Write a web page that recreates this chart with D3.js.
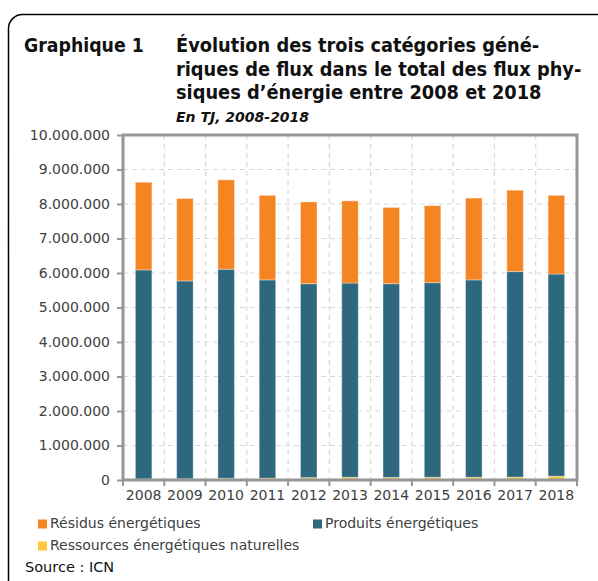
<!DOCTYPE html>
<html>
<head>
<meta charset="utf-8">
<script src="https://cdn.jsdelivr.net/npm/d3@7"></script>
<style>
  body { margin: 0; background: #fff; }
  svg { display: block; font-family: "DejaVu Sans", sans-serif; }
</style>
</head>
<body>
<div class="canvas"></div>
<script>
const years = ['2008', '2009', '2010', '2011', '2012', '2013', '2014', '2015', '2016', '2017', '2018'];
// values in TJ
const ressources = [30000, 35000, 50000, 55000, 70000, 80000, 75000, 80000, 80000, 85000, 110000];
const produits = [6060000, 5735000, 6060000, 5745000, 5620000, 5630000, 5615000, 5640000, 5720000, 5955000, 5860000];
const residus = [2540000, 2390000, 2590000, 2450000, 2370000, 2380000, 2210000, 2230000, 2370000, 2360000, 2280000];
const yTicks = [0, 1e6, 2e6, 3e6, 4e6, 5e6, 6e6, 7e6, 8e6, 9e6, 10e6];

const seriesNames = ['Ressources énergétiques naturelles', 'Produits énergétiques', 'Résidus énergétiques'];
const colors = ['#FFC83D', '#2D687F', '#F58423'];

const condensed = '"DejaVu Sans Condensed", "DejaVu Sans", sans-serif';

const svg = d3.select('.canvas')
  .append('svg')
  .attr('width', 598)
  .attr('height', 581);

// rounded frame, runs off the bottom and right
svg.append('rect')
  .attr('x', 8.5).attr('y', 14.5)
  .attr('width', 620).attr('height', 620)
  .attr('rx', 14)
  .attr('fill', 'none')
  .attr('stroke', '#000')
  .attr('stroke-width', 1.5);

// title block
svg.append('text')
  .attr('x', 24).attr('y', 52)
  .attr('font-family', condensed)
  .attr('font-size', 19.3).attr('font-weight', 'bold')
  .attr('fill', '#111')
  .text('Graphique 1');

const titleLines = ['Évolution des trois catégories géné-', 'riques de flux dans le total des flux phy-', 'siques d’énergie entre 2008 et 2018'];
svg.append('g').selectAll('text')
  .data(titleLines)
  .join('text')
  .attr('x', 176)
  .attr('y', (d, i) => 52 + i * 23.5)
  .attr('font-family', condensed)
  .attr('font-size', 19.8).attr('font-weight', 'bold')
  .attr('fill', '#111')
  .text(d => d);

svg.append('text')
  .attr('x', 176).attr('y', 122)
  .attr('font-size', 14).attr('font-weight', 'bold').attr('font-style', 'italic')
  .attr('fill', '#111')
  .text('En TJ, 2008-2018');

// plot
const pLeft = 123, pRight = 577, pTop = 135, pBottom = 480;

const x = d3.scaleBand()
  .domain(years)
  .range([pLeft, pRight])
  .paddingInner(0.6)
  .paddingOuter(0.3);

const xCell = d3.scaleBand()
  .domain(years)
  .range([pLeft, pRight]);

const y = d3.scaleLinear()
  .domain([0, 10e6])
  .range([pBottom, pTop]);

// gridlines
const grid = svg.append('g')
  .attr('stroke', '#d9d9d9')
  .attr('stroke-dasharray', '5,4')
  .attr('stroke-width', 1.2);

grid.selectAll('.hg')
  .data(yTicks.slice(1, -1))
  .join('line')
  .attr('x1', pLeft).attr('x2', pRight)
  .attr('y1', d => y(d)).attr('y2', d => y(d));

grid.selectAll('.vg')
  .data(years.slice(1))
  .join('line')
  .attr('x1', d => xCell(d)).attr('x2', d => xCell(d))
  .attr('y1', pTop).attr('y2', pBottom);

// stacked bars
const table = years.map((yr, i) => ({
  year: yr,
  [seriesNames[0]]: ressources[i],
  [seriesNames[1]]: produits[i],
  [seriesNames[2]]: residus[i]
}));

const stack = d3.stack().keys(seriesNames);
const layers = stack(table);

svg.append('g').selectAll('g')
  .data(layers)
  .join('g')
  .attr('fill', (d, i) => colors[i])
  .selectAll('rect')
  .data(d => d)
  .join('rect')
  .attr('x', d => x(d.data.year))
  .attr('width', x.bandwidth())
  .attr('y', d => y(d[1]))
  .attr('height', d => y(d[0]) - y(d[1]))
  .attr('stroke', 'rgba(255,255,255,0.35)')
  .attr('stroke-width', 1);

// frame of the plot area
svg.append('rect')
  .attr('x', pLeft).attr('y', pTop)
  .attr('width', pRight - pLeft).attr('height', pBottom - pTop)
  .attr('fill', 'none')
  .attr('stroke', '#969696')
  .attr('stroke-width', 3);

// y axis
const yAxis = svg.append('g')
  .attr('transform', `translate(${pLeft},0)`)
  .call(d3.axisLeft(y)
    .tickValues(yTicks)
    .tickSize(6)
    .tickPadding(7)
    .tickFormat(d => d3.format(',')(d).replace(/,/g, '.')));

yAxis.select('.domain').remove();
yAxis.selectAll('.tick line').attr('stroke', '#969696').attr('stroke-width', 2);
yAxis.selectAll('.tick text')
  .attr('font-size', 14)
  .attr('fill', '#404040')
  .attr('font-family', '"DejaVu Sans", sans-serif');

// x axis ticks at category boundaries
svg.append('g')
  .attr('stroke', '#969696')
  .attr('stroke-width', 2)
  .selectAll('line')
  .data(years)
  .join('line')
  .attr('x1', d => xCell(d)).attr('x2', d => xCell(d))
  .attr('y1', pBottom).attr('y2', pBottom + 6);

svg.append('line')
  .attr('x1', pRight).attr('x2', pRight)
  .attr('y1', pBottom).attr('y2', pBottom + 6)
  .attr('stroke', '#969696').attr('stroke-width', 2);

svg.append('g').selectAll('text')
  .data(years)
  .join('text')
  .attr('x', d => xCell(d) + xCell.bandwidth() / 2)
  .attr('y', 500)
  .attr('text-anchor', 'middle')
  .attr('font-size', 14)
  .attr('fill', '#404040')
  .text(d => d);

// legend
const legendItems = [
  { name: seriesNames[2], color: colors[2], x: 38, y: 528 },
  { name: seriesNames[1], color: colors[1], x: 313, y: 528 },
  { name: seriesNames[0], color: colors[0], x: 38, y: 550 }
];

const legend = svg.append('g').selectAll('g')
  .data(legendItems)
  .join('g')
  .attr('transform', d => `translate(${d.x},${d.y})`);

legend.append('rect')
  .attr('x', 0).attr('y', -8.5)
  .attr('width', 9).attr('height', 9)
  .attr('fill', d => d.color);

legend.append('text')
  .attr('x', 12).attr('y', 0)
  .attr('font-size', 14)
  .attr('fill', '#404040')
  .text(d => d.name);

svg.append('text')
  .attr('x', 25).attr('y', 572)
  .attr('font-size', 14.5)
  .attr('fill', '#111')
  .text('Source : ICN');
</script>
</body>
</html>
